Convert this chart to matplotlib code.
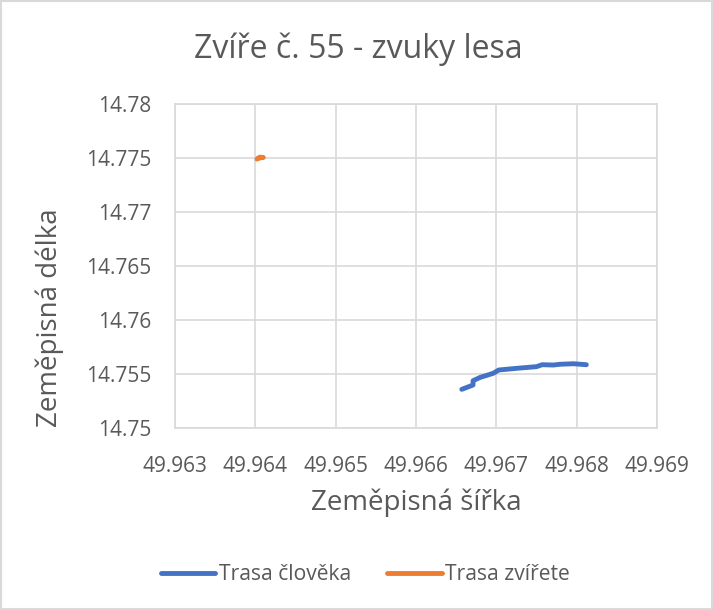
import matplotlib
matplotlib.use("Agg")
import matplotlib.pyplot as plt
from matplotlib.patches import Rectangle

# Data
human_lat = [49.96657, 49.96671, 49.96671, 49.96680, 49.96696, 49.96703, 49.96726,
             49.96750, 49.96757, 49.96771, 49.96779, 49.96796, 49.96812]
human_lon = [14.75358, 14.75398, 14.75438, 14.75469, 14.75506, 14.75537, 14.75553,
             14.75568, 14.75586, 14.75583, 14.75590, 14.75595, 14.75586]
animal_lat = [49.96402, 49.96406, 49.96410, 49.96404]
animal_lon = [14.77490, 14.77508, 14.77505, 14.77500]
x_ticks = [49.963, 49.964, 49.965, 49.966, 49.967, 49.968, 49.969]
y_ticks = [14.75, 14.755, 14.76, 14.765, 14.77, 14.775, 14.78]

title = "Zvíře č. 55 - zvuky lesa"
xlabel = "Zeměpisná šířka"
ylabel = "Zeměpisná délka"
series_names = ["Trasa člověka", "Trasa zvířete"]

plt.rcParams['font.family'] = ['Open Sans', 'DejaVu Sans']
txt = '#595959'
grid = '#D9D9D9'

fig = plt.figure(figsize=(7.13, 6.10), dpi=100)
fig.patches.append(Rectangle((0.002, 0.002), 0.996, 0.996, transform=fig.transFigure,
                             fill=False, edgecolor=grid, linewidth=1.5))
ax = fig.add_axes([175/713, 1-428/610, (657-175)/713, (428-104)/610])

ax.plot(human_lat, human_lon, color='#4472C4', lw=3.5, solid_capstyle='round',
        solid_joinstyle='round', label=series_names[0], zorder=3)
ax.plot(animal_lat, animal_lon, color='#ED7D31', lw=3.5, solid_capstyle='round',
        solid_joinstyle='round', label=series_names[1], zorder=3)

ax.set_xlim(x_ticks[0], x_ticks[-1])
ax.set_ylim(y_ticks[0], y_ticks[-1])
ax.set_xticks(x_ticks)
ax.set_yticks(y_ticks)
ax.set_xticklabels([f"{v:g}" for v in x_ticks])
ax.set_yticklabels([f"{v:g}" for v in y_ticks])
ax.grid(True, color=grid, lw=1.2)
ax.set_axisbelow(True)
for s in ax.spines.values():
    s.set_color(grid)
    s.set_linewidth(1.2)
ax.tick_params(length=0, colors=txt, labelsize=15)
ax.tick_params(axis='x', pad=20)
ax.tick_params(axis='y', pad=17)

fig.text(0.502, 1-58/610, title, ha='center', va='baseline', fontsize=23, color=txt)
fig.text(416/713, 1-510/610, xlabel, ha='center', va='baseline', fontsize=20, color=txt)
fig.text(50/713, 1-318/610, ylabel, ha='center', va='center', rotation=90,
         fontsize=20, color=txt)

leg = fig.legend(loc='center', bbox_to_anchor=(0.512, 1-575/610), ncol=2, frameon=False,
                 fontsize=15.2, handlelength=2.6, handletextpad=0.15, columnspacing=1.7)
for t in leg.get_texts():
    t.set_color(txt)
for h in leg.get_lines():
    h.set_linewidth(3.5)

fig.savefig("out.png", dpi=100)
